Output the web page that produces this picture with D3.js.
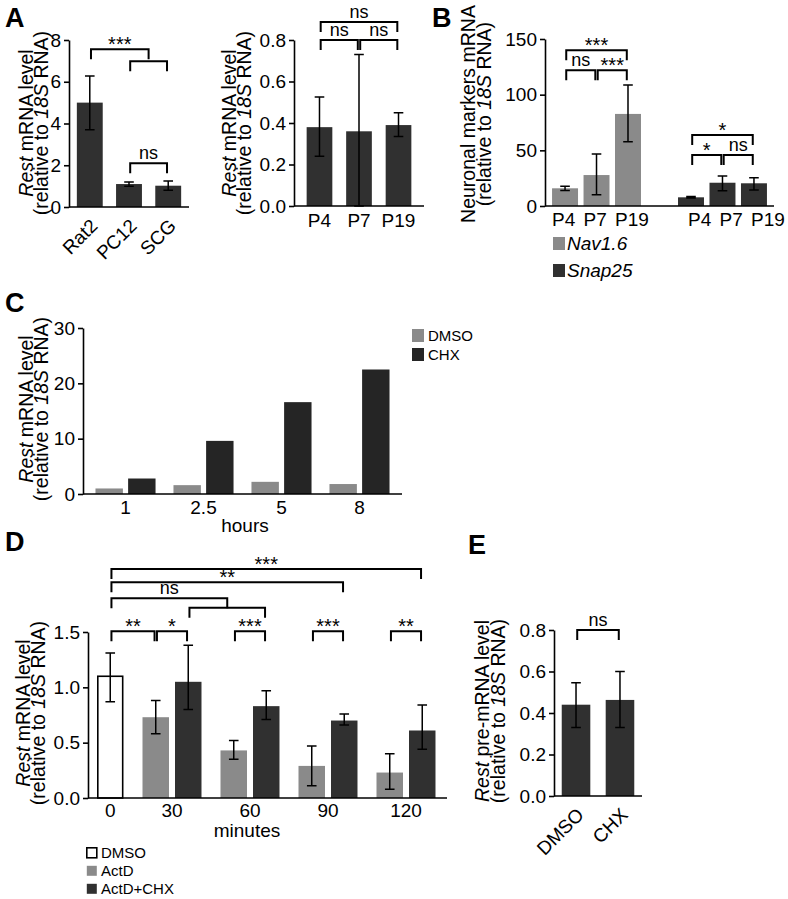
<!DOCTYPE html>
<html><head><meta charset="utf-8">
<script src="https://cdn.jsdelivr.net/npm/d3@7"></script>
<style>body{margin:0;background:#fff} svg{display:block}</style>
</head><body><svg id="c" width="788" height="899"></svg>
<script>
// ================= DATA =================
// Panel A (left): Rest mRNA in cell types
const aCells = ["Rat2", "PC12", "SCG"];
const aCellVals = [5.0, 1.1, 1.02];
const aCellLo = [3.7, 1.0, 0.8];
const aCellHi = [6.27, 1.2, 1.24];
const aCellTicks = [0, 2, 4, 6, 8];

// Panel A (right): Rest mRNA by age
const aAges = ["P4", "P7", "P19"];
const aAgeVals = [0.38, 0.36, 0.39];
const aAgeLo = [0.24, 0.0, 0.335];
const aAgeHi = [0.525, 0.73, 0.45];
const aAgeTicks = [0, 0.2, 0.4, 0.6, 0.8];

// Panel B: neuronal markers
const bGenes = ["Nav1.6", "Snap25"];
const bAges = ["P4", "P7", "P19"];
const bNavVals = [15.9, 27.8, 82.7];
const bNavLo = [14.0, 10.0, 57.8];
const bNavHi = [17.8, 46.7, 108.7];
const bSnapVals = [7.8, 20.9, 20.4];
const bSnapLo = [7.2, 13.8, 14.4];
const bSnapHi = [8.5, 27.0, 25.4];
const bTicks = [0, 50, 100, 150];

// Panel C: CHX time course
const cHours = ["1", "2.5", "5", "8"];
const cSeries = ["DMSO", "CHX"];
const cDmso = [1.0, 1.6, 2.2, 1.8];
const cChx = [2.8, 9.6, 16.6, 22.5];
const cTicks = [0, 10, 20, 30];

// Panel D: ActD / ActD+CHX
const dMinutes = ["0", "30", "60", "90", "120"];
const dSeries = ["DMSO", "ActD", "ActD+CHX"];
const dDmsoVal = 1.10, dDmsoLo = 0.87, dDmsoHi = 1.31;
const dActdVals = [0.73, 0.43, 0.29, 0.23];
const dActdLo = [0.58, 0.35, 0.11, 0.08];
const dActdHi = [0.88, 0.52, 0.47, 0.40];
const dChxVals = [1.05, 0.83, 0.70, 0.61];
const dChxLo = [0.80, 0.71, 0.66, 0.44];
const dChxHi = [1.38, 0.97, 0.76, 0.84];
const dTicks = [0, 0.5, 1.0, 1.5];

// Panel E: pre-mRNA
const eTreat = ["DMSO", "CHX"];
const eVals = [0.44, 0.463];
const eLo = [0.33, 0.33];
const eHi = [0.546, 0.60];
const eTicks = [0, 0.2, 0.4, 0.6, 0.8];

// significance brackets (endpoints = categories, level in data units)
const aCellBrackets = [
  {a: "PC12", b: "SCG", y: 6.98, label: ""},
  {a: "Rat2", b: ["PC12", "SCG"], y: 7.56, label: "***"},
  {a: "PC12", b: "SCG", y: 2.1, label: "ns"}
];
const aAgeBrackets = [
  {a: "P4", b: "P19", y: 0.887, label: "ns"},
  {a: "P4", b: "P7", y: 0.80, label: "ns"},
  {a: "P7", b: "P19", y: 0.80, label: "ns"}
];
const bBrackets = [
  {a: "Nav1.6|P4", b: "Nav1.6|P19", y: 140, label: "***"},
  {a: "Nav1.6|P4", b: "Nav1.6|P7", y: 122, label: "ns"},
  {a: "Nav1.6|P7", b: "Nav1.6|P19", y: 122, label: "***"},
  {a: "Snap25|P4", b: "Snap25|P19", y: 63.8, label: "*"},
  {a: "Snap25|P4", b: "Snap25|P7", y: 45.8, label: "*"},
  {a: "Snap25|P7", b: "Snap25|P19", y: 45.8, label: "ns"}
];
const dBrackets = [
  {a: "0|DMSO", b: "120|ActD+CHX", y: 2.07, label: "***"},
  {a: "0|DMSO", b: "90|ActD+CHX", y: 1.95, label: "**"},
  {a: "30|ActD+CHX", b: "60|ActD+CHX", y: 1.72, label: ""},
  {a: "0|DMSO", b: ["30|ActD+CHX", "60|ActD+CHX"], y: 1.805, label: "ns"},
  {a: "0|DMSO", b: "30|ActD", y: 1.506, label: "**"},
  {a: "30|ActD", b: "30|ActD+CHX", y: 1.506, label: "*"},
  {a: "60|ActD", b: "60|ActD+CHX", y: 1.506, label: "***"},
  {a: "90|ActD", b: "90|ActD+CHX", y: 1.506, label: "***"},
  {a: "120|ActD", b: "120|ActD+CHX", y: 1.506, label: "**"}
];
const eBrackets = [{a: "DMSO", b: "CHX", y: 0.8, label: "ns"}];

// ================= DRAWING =================
const FONT = "Arial, 'Liberation Sans', Helvetica, sans-serif";
const DARK = "#303030", GRAY = "#8a8a8a";
const TICK = 19, LAB = 19.5;
const svg = d3.select("#c");

function yAxis(x, y, ticks, fmt) {
  const ax = d3.axisLeft(y).tickValues(ticks).tickFormat(fmt).tickSize(5).tickSizeOuter(0).tickPadding(3);
  const g = svg.append("g").attr("transform", `translate(${x},0)`).call(ax);
  g.selectAll("path,line").attr("stroke", "#000").attr("stroke-width", 1.6);
  g.selectAll("text").attr("font-size", TICK).attr("font-family", FONT).attr("fill", "#000");
  return g;
}
function xLine(x1, x2, yv) {
  svg.append("line").attr("x1", x1).attr("x2", x2).attr("y1", yv).attr("y2", yv)
    .attr("stroke", "#000").attr("stroke-width", 1.6);
}
function errBar(cx, y0, y1) {
  const cap = 4.8;
  const p = d3.path();
  p.moveTo(cx, y0); p.lineTo(cx, y1);
  p.moveTo(cx - cap, y0); p.lineTo(cx + cap, y0);
  p.moveTo(cx - cap, y1); p.lineTo(cx + cap, y1);
  svg.append("path").attr("d", p.toString()).attr("stroke", "#000").attr("stroke-width", 1.5).attr("fill", "none");
}
function brackets(list, xOf, y) {
  list.forEach(br => {
    const xa = Array.isArray(br.a) ? (xOf(br.a[0]) + xOf(br.a[1])) / 2 : xOf(br.a) + 1.2;
    const xb = Array.isArray(br.b) ? (xOf(br.b[0]) + xOf(br.b[1])) / 2 : xOf(br.b) - 1.2;
    const yy = y(br.y);
    const p = d3.path();
    p.moveTo(xa, yy + 10); p.lineTo(xa, yy); p.lineTo(xb, yy); p.lineTo(xb, yy + 10);
    svg.append("path").attr("d", p.toString()).attr("stroke", "#000").attr("stroke-width", 2).attr("fill", "none");
    if (br.label) {
      const star = br.label.includes("*");
      svg.append("text").attr("x", (xa + xb) / 2).attr("y", star ? yy + 2 : yy - 4)
        .attr("text-anchor", "middle").attr("font-family", FONT).attr("font-size", star ? 20 : 18)
        .text(br.label);
    }
  });
}
function yLabel(x1, x2, cy, parts1, parts2) {
  [[x1, parts1], [x2, parts2]].forEach(([x, parts]) => {
    const t = svg.append("text").attr("transform", `translate(${x},${cy}) rotate(-90)`)
      .attr("text-anchor", "middle").attr("font-family", FONT).attr("font-size", LAB);
    parts.forEach(([s, it]) => t.append("tspan").attr("font-style", it ? "italic" : "normal").text(s));
  });
}
function title(s, x, yb) {
  svg.append("text").attr("x", x).attr("y", yb).attr("font-family", FONT).attr("font-weight", "bold")
    .attr("font-size", 27).text(s);
}
function text(s, x, yb, size, anchor, italic) {
  return svg.append("text").attr("x", x).attr("y", yb).attr("font-family", FONT).attr("font-size", size)
    .attr("text-anchor", anchor || "middle").attr("font-style", italic ? "italic" : "normal").text(s);
}
const restL1 = [["Rest", true], [" mRNA level", false]];
const relL2 = [["(relative to ", false], ["18S", true], [" RNA)", false]];

// ---------- Panel A left ----------
{
  const y = d3.scaleLinear().domain([0, 8]).range([207, 40]);
  const x = d3.scaleBand().domain(aCells).range([69, 189]).paddingInner(0.34).paddingOuter(0.2);
  aCells.forEach((c, i) => {
    svg.append("rect").attr("x", x(c)).attr("width", x.bandwidth()).attr("y", y(aCellVals[i]))
      .attr("height", y(0) - y(aCellVals[i])).attr("fill", DARK);
    errBar(x(c) + x.bandwidth() / 2, y(aCellLo[i]), y(aCellHi[i]));
    const ax = x(c) + x.bandwidth() / 2 + 9, ay = y(0) + 20;
    text(c, ax, ay, TICK, "end").attr("transform", `rotate(-45,${ax},${ay})`);
  });
  yAxis(69, y, aCellTicks, d3.format("d"));
  xLine(69, 189, y(0));
  brackets(aCellBrackets, c => x(c) + x.bandwidth() / 2, y);
  yLabel(33, 48, 123, restL1, relL2);
  title("A", 5, 27);
}
// ---------- Panel A right ----------
{
  const y = d3.scaleLinear().domain([0, 0.8]).range([206, 40]);
  const x = d3.scaleBand().domain(aAges).range([294, 424]).paddingInner(0.35).paddingOuter(0.32);
  aAges.forEach((c, i) => {
    svg.append("rect").attr("x", x(c)).attr("width", x.bandwidth()).attr("y", y(aAgeVals[i]))
      .attr("height", y(0) - y(aAgeVals[i])).attr("fill", DARK);
    errBar(x(c) + x.bandwidth() / 2, y(aAgeLo[i]), y(aAgeHi[i]));
    text(c, x(c) + x.bandwidth() / 2, y(0) + 21, TICK);
  });
  yAxis(294, y, aAgeTicks, d3.format(".1f"));
  xLine(294, 424, y(0));
  brackets(aAgeBrackets, c => x(c) + x.bandwidth() / 2, y);
  yLabel(236, 251, 123, restL1, relL2);
}
// ---------- Panel B ----------
{
  const y = d3.scaleLinear().domain([0, 150]).range([206, 39]);
  const xo = d3.scaleBand().domain(bGenes).range([545, 774]).paddingInner(0.294).paddingOuter(0.056);
  const xi = d3.scaleBand().domain(bAges).range([0, xo.bandwidth()]).paddingInner(0.175).paddingOuter(0);
  const series = [[bNavVals, bNavLo, bNavHi, GRAY], [bSnapVals, bSnapLo, bSnapHi, DARK]];
  bGenes.forEach((gname, gi) => {
    const [vals, lo, hi, col] = series[gi];
    bAges.forEach((a, i) => {
      const bx = xo(gname) + xi(a);
      svg.append("rect").attr("x", bx).attr("width", xi.bandwidth()).attr("y", y(vals[i]))
        .attr("height", y(0) - y(vals[i])).attr("fill", col);
      errBar(bx + xi.bandwidth() / 2, y(lo[i]), y(hi[i]));
      text(a, bx + (gi === 0 ? 0 : 10), y(0) + 20, TICK, "start");
    });
  });
  yAxis(545, y, bTicks, d3.format("d"));
  xLine(545, 774, y(0));
  brackets(bBrackets, k => { const [g, a] = k.split("|"); return xo(g) + xi(a) + xi.bandwidth() / 2; }, y);
  yLabel(475, 491, 114, [["Neuronal markers mRNA", false]], relL2);
  // legend
  [[bGenes[0], GRAY], [bGenes[1], DARK]].forEach(([n, col], i) => {
    svg.append("rect").attr("x", 553).attr("y", 237 + i * 27).attr("width", 12).attr("height", 13).attr("fill", col);
    text(n, 567, 250 + i * 27, 19, "start", true);
  });
  title("B", 432, 27);
}
// ---------- Panel C ----------
{
  const y = d3.scaleLinear().domain([0, 30]).range([494, 328]);
  const xo = d3.scaleBand().domain(cHours).range([83, 402]).paddingInner(0.23).paddingOuter(0.16);
  const xi = d3.scaleBand().domain(cSeries).range([0, xo.bandwidth()]).paddingInner(0.16);
  const vals = [cDmso, cChx], cols = [GRAY, "#252525"];
  cHours.forEach((h, gi) => {
    cSeries.forEach((s, si) => {
      const v = vals[si][gi];
      svg.append("rect").attr("x", xo(h) + xi(s)).attr("width", xi.bandwidth()).attr("y", y(v))
        .attr("height", y(0) - y(v)).attr("fill", cols[si]);
    });
    text(h, xo(h) + xo.bandwidth() / 2, 514, TICK);
  });
  yAxis(83, y, cTicks, d3.format("d"));
  xLine(83, 402, y(0));
  text("hours", 245, 532, TICK);
  yLabel(33, 48, 409, restL1, relL2);
  cSeries.forEach((s, i) => {
    svg.append("rect").attr("x", 412).attr("y", 329 + i * 19).attr("width", 12).attr("height", 13).attr("fill", cols[i]);
    text(s, 428, 341 + i * 19, 15, "start");
  });
  title("C", 5, 312);
}
// ---------- Panel D ----------
{
  const y = d3.scaleLinear().domain([0, 1.5]).range([798, 632]);
  // build bar slots: group "0" holds DMSO only, others hold ActD and ActD+CHX
  const bars = [];
  let u = 0;
  dMinutes.forEach((m, gi) => {
    const members = gi === 0 ? [[dSeries[0], dDmsoVal, dDmsoLo, dDmsoHi]]
      : [[dSeries[1], dActdVals[gi - 1], dActdLo[gi - 1], dActdHi[gi - 1]],
         [dSeries[2], dChxVals[gi - 1], dChxLo[gi - 1], dChxHi[gi - 1]]];
    members.forEach(([s, v, lo, hi]) => { bars.push({m, s, v, lo, hi, u}); u += 1; });
    u += 0.4;
  });
  const bw = 0.815;
  const lastU = bars[bars.length - 1].u + bw;
  const x = d3.scaleLinear().domain([0, lastU]).range([97, 97 + lastU * 32.5]);
  const colOf = {"DMSO": "#fff", "ActD": GRAY, "ActD+CHX": DARK};
  const centerOf = {};
  bars.forEach(b => {
    const isD = b.s === "DMSO";
    svg.append("rect").attr("x", x(b.u) + (isD ? 0.8 : 0)).attr("width", x(b.u + bw) - x(b.u) - (isD ? 1.6 : 0))
      .attr("y", y(b.v)).attr("height", y(0) - y(b.v)).attr("fill", colOf[b.s])
      .attr("stroke", isD ? "#000" : "none").attr("stroke-width", 1.6);
    const cx = (x(b.u) + x(b.u + bw)) / 2;
    centerOf[b.m + "|" + b.s] = cx;
    errBar(cx, y(b.lo), y(b.hi));
  });
  dMinutes.forEach(m => {
    const gb = bars.filter(b => b.m === m);
    const cx = (x(gb[0].u) + x(gb[gb.length - 1].u + bw)) / 2;
    text(m, cx, 817, TICK);
  });
  yAxis(88, y, dTicks, d3.format(".1f"));
  xLine(88, 447, y(0));
  brackets(dBrackets, k => centerOf[k], y);
  text("minutes", 247, 837, TICK);
  yLabel(30, 45, 713, restL1, relL2);
  dSeries.forEach((s, i) => {
    svg.append("rect").attr("x", 86.8).attr("y", 847.8 + i * 18).attr("width", 10).attr("height", 10)
      .attr("fill", colOf[s]).attr("stroke", s === "DMSO" ? "#000" : "none").attr("stroke-width", 1.6);
    text(s, 101, 858 + i * 18, 15, "start");
  });
  title("D", 5, 551);
}
// ---------- Panel E ----------
{
  const y = d3.scaleLinear().domain([0, 0.8]).range([796, 630]);
  const x = d3.scaleBand().domain(eTreat).range([554, 642]).paddingInner(0.35).paddingOuter(0.176);
  eTreat.forEach((c, i) => {
    svg.append("rect").attr("x", x(c)).attr("width", x.bandwidth()).attr("y", y(eVals[i]))
      .attr("height", y(0) - y(eVals[i])).attr("fill", DARK);
    errBar(x(c) + x.bandwidth() / 2, y(eLo[i]), y(eHi[i]));
    const ax = x(c) + x.bandwidth() / 2 + 9, ay = y(0) + 20;
    text(c, ax, ay, TICK, "end").attr("transform", `rotate(-45,${ax},${ay})`);
  });
  yAxis(554, y, eTicks, d3.format(".1f"));
  xLine(554, 642, y(0));
  brackets(eBrackets, c => x(c) + x.bandwidth() / 2, y);
  yLabel(489, 505, 711, [["Rest", true], [" pre-mRNA level", false]], relL2);
  title("E", 468, 554);
}
</script></body></html>
